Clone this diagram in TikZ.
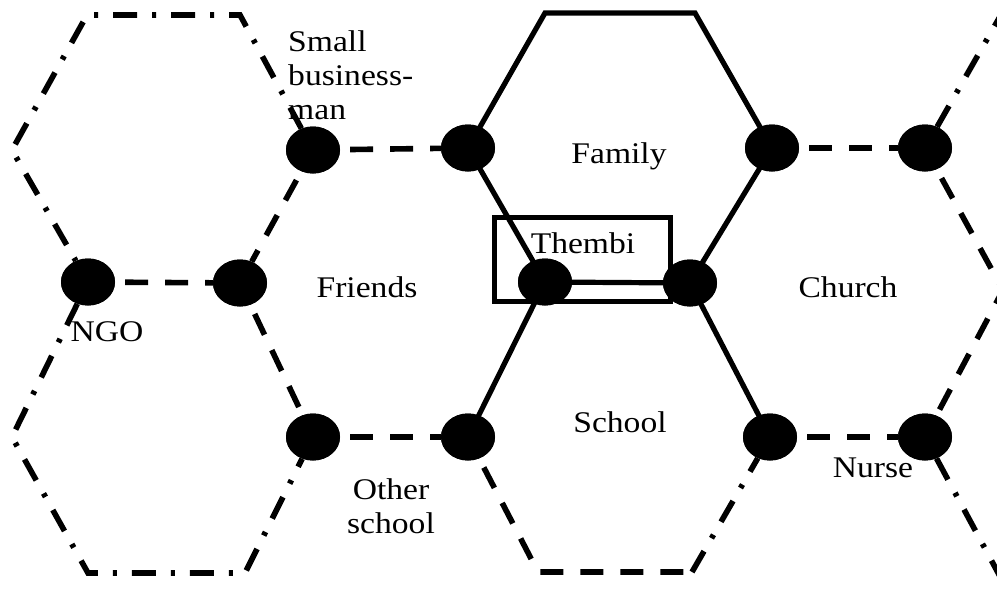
\documentclass[tikz,border=0pt]{standalone}
\usepackage{fontspec}
\setmainfont{Liberation Serif}[FakeStretch=1.12]
\usetikzlibrary{shapes.geometric}
\tikzset{
  dot/.style={ellipse, fill=black, draw=none, minimum width=54pt, minimum height=47pt, inner sep=0pt},
  solidline/.style={line width=5.2pt, line join=miter},
  dashline/.style={line width=5.6pt, dash pattern=on 23pt off 17pt, dash phase=30pt},
  dashdotline/.style={line width=5.6pt, dash pattern=on 24pt off 15pt on 4pt off 15pt},
  lbl/.style={inner sep=0pt, font=\fontsize{30pt}{34pt}\selectfont},
  tbox/.style={draw, line width=5pt, minimum width=176pt, minimum height=84pt, inner sep=0pt}
}
\begin{document}
\begin{tikzpicture}[x=1pt,y=-1pt]
\useasboundingbox (0,0) rectangle (997,597);
\clip (0,0) rectangle (997,597);
% vertex nodes (placed first so lines can refer to them)
\node[dot] (SB) at (313,150) {};
\node[dot] (F1) at (468,148) {};
\node[dot] (T1) at (545,282) {};
\node[dot] (T2) at (690,283) {};
\node[dot] (C1) at (772,148) {};
\node[dot] (C2) at (925,148) {};
\node[dot] (N1) at (88,282) {};
\node[dot] (N2) at (240,283) {};
\node[dot] (O1) at (313,437) {};
\node[dot] (O2) at (468,437) {};
\node[dot] (S1) at (770,437) {};
\node[dot] (S2) at (925,437) {};
% free corners
\coordinate (tlA) at (240,15);
\coordinate (tlB) at (87,15);
\coordinate (tlC) at (12,150);
\coordinate (blA) at (12,437);
\coordinate (blB) at (88,573);
\coordinate (blC) at (245,573);
\coordinate (famA) at (545,13);
\coordinate (famB) at (695,13);
\coordinate (scA) at (538,572);
\coordinate (scB) at (692,572);
\coordinate (rTop) at (1002,13);
\coordinate (rMid) at (1003,290);
\coordinate (rBot) at (1003,582);
% solid edges
\draw[solidline] (F1.center) -- (famA) -- (famB) -- (C1.center);
\draw[solidline] (F1.center) -- (T1.center);
\draw[solidline] (T1.center) -- (T2.center);
\draw[solidline] (T1.center) -- (O2.center);
\draw[solidline] (T2.center) -- (C1.center);
\draw[solidline] (T2.center) -- (S1.center);
% dashed edges
\draw[dashline] (SB) -- (F1);
\draw[dashline] (SB) -- (N2);
\draw[dashline] (N1) -- (N2);
\draw[dashline] (N2) -- (O1);
\draw[dashline] (O1) -- (O2);
\draw[dashline] (O2) -- (scA) -- (scB);
\draw[dashline] (C1) -- (C2);
\draw[dashline] (S1) -- (S2);
\draw[dashline] (C2) -- (rMid) -- (S2);
% dash-dot edges
\draw[dashdotline] (SB) -- (tlA) -- (tlB) -- (tlC) -- (N1);
\draw[dashdotline] (N1) -- (blA) -- (blB) -- (blC) -- (O1);
\draw[dashdotline] (scB) -- (S1);
\draw[dashdotline] (C2) -- (rTop);
\draw[dashdotline] (S2) -- (rBot);
% Thembi box
\node[tbox] (box) at (582,259) {};
% redraw nodes on top
\foreach \n in {SB,F1,T1,T2,C1,C2,N1,N2,O1,O2,S1,S2}
  \fill (\n.center) ellipse (27pt and 23.5pt);
% labels
\node[lbl, anchor=base] (family) at (619,163) {Family};
\node[lbl, anchor=base] (friends) at (367,297) {Friends};
\node[lbl, anchor=base] (church) at (848,297) {Church};
\node[lbl, anchor=base] (school) at (620,432) {School};
\node[lbl, anchor=base] (thembi) at (583,253) {Thembi};
\node[lbl, anchor=base] (ngo) at (107,341) {NGO};
\node[lbl, anchor=base] (nurse) at (873,477) {Nurse};
\node[lbl, anchor=north west, align=left] (small) at (288,30) {Small\\business-\\man};
\node[lbl, anchor=north, align=center] (other) at (391,478) {Other\\school};
\end{tikzpicture}
\end{document}
